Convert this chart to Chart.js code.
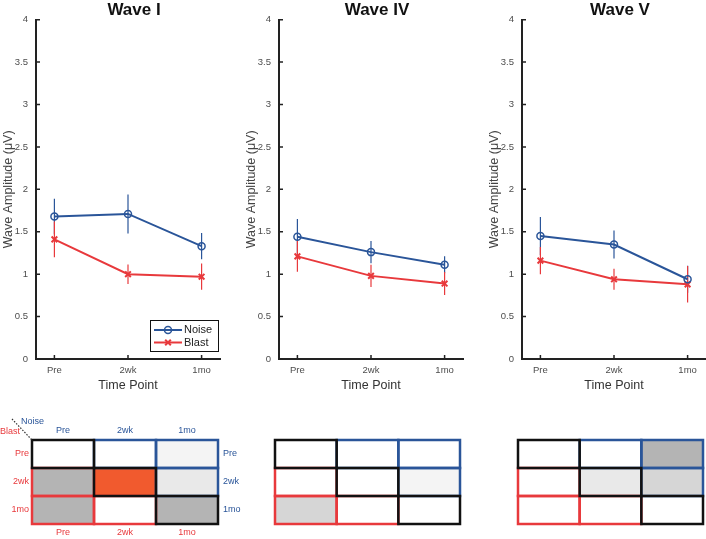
<!DOCTYPE html>
<html>
<head>
<meta charset="utf-8">
<title>Wave amplitudes</title>
<script src="https://cdn.jsdelivr.net/npm/chart.js@4.4.0/dist/chart.umd.min.js"></script>
<style>
  html, body { margin: 0; padding: 0; background: #fff; overflow: hidden; }
  body { width: 706px; height: 539px; position: relative; }
  .pane { position: absolute; }
</style>
</head>
<body>
<div class="pane" style="left:0;top:0"><canvas id="wave1" width="268" height="400"></canvas></div>
<div class="pane" style="left:243px;top:0"><canvas id="wave4" width="268" height="400"></canvas></div>
<div class="pane" style="left:486px;top:0"><canvas id="wave5" width="268" height="400"></canvas></div>
<div class="pane" style="left:0;top:412px"><canvas id="grid1" width="250" height="127"></canvas></div>
<div class="pane" style="left:272px;top:437px"><canvas id="grid4" width="191" height="90"></canvas></div>
<div class="pane" style="left:515px;top:437px"><canvas id="grid5" width="191" height="90"></canvas></div>
<script>
// --- data ---
const timePoints = ['Pre', '2wk', '1mo'];
const xPos = [1, 2, 3];
const yTicks = [0, 0.5, 1, 1.5, 2, 2.5, 3, 3.5, 4];

const wave1Noise = [1.68, 1.71, 1.33];
const wave1NoiseErr = [0.21, 0.23, 0.155];
const wave1Blast = [1.41, 1.00, 0.97];
const wave1BlastErr = [0.21, 0.115, 0.155];

const wave4Noise = [1.44, 1.26, 1.11];
const wave4NoiseErr = [0.21, 0.13, 0.10];
const wave4Blast = [1.21, 0.98, 0.89];
const wave4BlastErr = [0.18, 0.13, 0.135];

const wave5Noise = [1.45, 1.35, 0.94];
const wave5NoiseErr = [0.225, 0.165, 0.16];
const wave5Blast = [1.16, 0.94, 0.88];
const wave5BlastErr = [0.16, 0.125, 0.215];

// comparison grids, rows = Blast time point, cols = Noise time point
// 0 = none, 1..4 = light to dark grey, 5 = orange
const wave1Levels = [[0, 0, 1], [4, 5, 2], [4, 0, 4]];
const wave4Levels = [[0, 0, 0], [0, 0, 1], [3, 0, 0]];
const wave5Levels = [[0, 0, 4], [0, 2, 3], [0, 0, 0]];

// --- styling ---
const noiseColor = '#2a5599';
const blastColor = '#e8393c';
const diagColor = '#111111';
const shadePalette = ['#ffffff', '#f4f4f4', '#e9e9e9', '#d6d6d6', '#b4b4b4', '#f15a2e'];

Chart.defaults.font.family = "'Liberation Sans', Arial, sans-serif";
Chart.defaults.animation = false;

const toPoints = vals => xPos.map((x, i) => ({ x: x, y: vals[i] }));

// vertical error bars from each dataset's errors array
const errorBars = {
  id: 'errorBars',
  beforeDatasetsDraw(chart) {
    const { ctx, scales: { x, y } } = chart;
    chart.data.datasets.forEach(ds => {
      if (!ds.errors) return;
      ctx.save();
      ctx.strokeStyle = ds.borderColor;
      ctx.lineWidth = 1.2;
      ds.data.forEach((pt, i) => {
        const px = x.getPixelForValue(pt.x);
        ctx.beginPath();
        ctx.moveTo(px, y.getPixelForValue(pt.y - ds.errors[i]));
        ctx.lineTo(px, y.getPixelForValue(pt.y + ds.errors[i]));
        ctx.stroke();
      });
      ctx.restore();
    });
  }
};

// matlab style inward tick marks
const innerTicks = {
  id: 'innerTicks',
  beforeDatasetsDraw(chart) {
    const { ctx, chartArea, scales: { x, y } } = chart;
    ctx.save();
    ctx.strokeStyle = '#222';
    ctx.lineWidth = 1.5;
    ctx.beginPath();
    x.ticks.forEach(t => {
      const px = x.getPixelForValue(t.value);
      ctx.moveTo(px, chartArea.bottom);
      ctx.lineTo(px, chartArea.bottom - 4);
    });
    y.ticks.forEach(t => {
      const py = y.getPixelForValue(t.value);
      ctx.moveTo(chartArea.left, py);
      ctx.lineTo(chartArea.left + 4, py);
    });
    ctx.stroke();
    ctx.restore();
  }
};

// boxed legend in the lower right of the plot
const boxLegend = {
  id: 'boxLegend',
  afterDraw(chart, args, opts) {
    if (!opts.show) return;
    const { ctx, chartArea } = chart;
    const w = 68, h = 31;
    const left = chartArea.right - 2 - w;
    const top = chartArea.bottom - 8 - h;
    ctx.save();
    ctx.fillStyle = '#fff';
    ctx.fillRect(left, top, w, h);
    ctx.strokeStyle = '#111';
    ctx.lineWidth = 1;
    ctx.strokeRect(left + 0.5, top + 0.5, w, h);
    chart.data.datasets.forEach((ds, i) => {
      const cy = top + 10 + i * 12.5;
      ctx.strokeStyle = ds.borderColor;
      ctx.lineWidth = 2;
      ctx.beginPath();
      ctx.moveTo(left + 4, cy);
      ctx.lineTo(left + 32, cy);
      ctx.stroke();
      ctx.fillStyle = 'rgba(0,0,0,0)';
      ctx.lineWidth = ds.pointBorderWidth;
      Chart.helpers.drawPoint(ctx, {
        pointStyle: ds.pointStyle, radius: ds.pointRadius,
        borderWidth: ds.pointBorderWidth, rotation: 0
      }, left + 18, cy);
      ctx.fillStyle = '#222';
      ctx.font = "11px 'Liberation Sans', Arial, sans-serif";
      ctx.textBaseline = 'middle';
      ctx.fillText(ds.label, left + 34, cy);
    });
    ctx.restore();
  }
};

function waveChart(id, title, noise, noiseErr, blast, blastErr, showLegend) {
  return new Chart(document.getElementById(id), {
    type: 'line',
    data: {
      datasets: [
        {
          label: 'Noise', data: toPoints(noise), errors: noiseErr,
          borderColor: noiseColor, backgroundColor: 'rgba(0,0,0,0)',
          pointStyle: 'circle', pointRadius: 3.5, pointBorderWidth: 1.5, borderWidth: 2
        },
        {
          label: 'Blast', data: toPoints(blast), errors: blastErr,
          borderColor: blastColor, backgroundColor: blastColor,
          pointStyle: 'crossRot', pointRadius: 4, pointBorderWidth: 2, borderWidth: 2
        }
      ]
    },
    options: {
      responsive: false,
      devicePixelRatio: 1,
      layout: { padding: 0 },
      plugins: {
        legend: { display: false },
        tooltip: { enabled: false },
        title: {
          display: true, text: title, color: '#111',
          font: { size: 17, weight: 'bold', lineHeight: 1.1 },
          padding: { top: 1, bottom: 0 }
        },
        boxLegend: { show: showLegend }
      },
      scales: {
        x: {
          type: 'linear', min: 0.75, max: 3.25,
          afterBuildTicks: s => { s.ticks = xPos.map(v => ({ value: v })); },
          afterFit: s => { s.height = 41; },
          ticks: { color: '#4d4d4d', font: { size: 9.5 }, padding: 6,
                   callback: (v, i) => timePoints[i] },
          grid: { display: false, drawTicks: false },
          border: { color: '#222', width: 2 },
          title: { display: true, text: 'Time Point', color: '#333',
                   font: { size: 12.5 }, padding: { top: 0, bottom: 7 } }
        },
        y: {
          min: 0, max: 4,
          afterBuildTicks: s => { s.ticks = yTicks.map(v => ({ value: v })); },
          afterFit: s => { s.width = 36; },
          ticks: { color: '#4d4d4d', font: { size: 9.5 }, padding: 8,
                   callback: v => String(v) },
          grid: { display: false, drawTicks: false },
          border: { color: '#222', width: 2 },
          title: { display: true, text: 'Wave Amplitude (\u03bcV)', color: '#444',
                   font: { size: 12.5 }, padding: { top: 1, bottom: 0 } }
        },
        // empty right-hand gutter so the title centres like the original
        gutter: {
          position: 'right', min: 0, max: 1,
          afterFit: s => { s.width = 48; },
          ticks: { display: false },
          grid: { display: false, drawTicks: false },
          border: { display: false }
        }
      }
    },
    plugins: [errorBars, innerTicks, boxLegend]
  });
}

waveChart('wave1', 'Wave I', wave1Noise, wave1NoiseErr, wave1Blast, wave1BlastErr, true);
waveChart('wave4', 'Wave IV', wave4Noise, wave4NoiseErr, wave4Blast, wave4BlastErr, false);
waveChart('wave5', 'Wave V', wave5Noise, wave5NoiseErr, wave5Blast, wave5BlastErr, false);

// one floating bar per grid cell
function gridDatasets(levels) {
  const sets = [];
  levels.forEach((row, r) => row.forEach((lvl, c) => {
    const edge = r === c ? diagColor : (c > r ? noiseColor : blastColor);
    sets.push({
      data: [{ x: [c, c + 1], y: timePoints[r] }],
      backgroundColor: shadePalette[lvl],
      borderColor: edge,
      borderWidth: 0,
      grouped: false,
      barPercentage: 1,
      categoryPercentage: 1,
      order: r === c ? 0 : 1
    });
  }));
  return sets;
}

// cell outlines centred on the cell edges, diagonal cells stroked last
const cellOutlines = {
  id: 'cellOutlines',
  afterDatasetsDraw(chart) {
    const { ctx } = chart;
    ctx.save();
    ctx.lineWidth = 2.5;
    chart.getSortedVisibleDatasetMetas().slice().reverse().forEach(meta => {
      const ds = chart.data.datasets[meta.index];
      meta.data.forEach(bar => {
        const { x, y, base, height } = bar.getProps(['x', 'y', 'base', 'height'], true);
        ctx.strokeStyle = ds.borderColor;
        ctx.strokeRect(Math.min(x, base), y - height / 2, Math.abs(x - base), height);
      });
    });
    ctx.restore();
  }
};

// "Noise" / "Blast" corner key with dotted divider
const cornerKey = {
  id: 'cornerKey',
  afterDraw(chart, args, opts) {
    if (!opts.show) return;
    const { ctx, chartArea: { left, top } } = chart;
    ctx.save();
    ctx.font = "9px 'Liberation Sans', Arial, sans-serif";
    ctx.textBaseline = 'middle';
    ctx.fillStyle = noiseColor;
    ctx.textAlign = 'left';
    ctx.fillText('Noise', left - 11, top - 18);
    ctx.fillStyle = blastColor;
    ctx.textAlign = 'right';
    ctx.fillText('Blast', left - 12, top - 8);
    ctx.strokeStyle = '#333';
    ctx.lineWidth = 1.2;
    ctx.setLineDash([1.5, 1.5]);
    ctx.beginPath();
    ctx.moveTo(left - 20, top - 21);
    ctx.lineTo(left, top);
    ctx.stroke();
    ctx.restore();
  }
};

function gridChart(id, levels, labelled) {
  const midTicks = s => { s.ticks = [0.5, 1.5, 2.5].map(v => ({ value: v })); };
  const fixed = (dim, size) => labelled ? (s => { s[dim] = size; }) : undefined;
  const lbl = (color, pad) => ({ display: labelled, color: color, font: { size: 9 }, padding: pad });
  const scales = {
    x: {
      type: 'linear', min: 0, max: 3, display: labelled,
      afterBuildTicks: midTicks,
      afterFit: fixed('height', 15),
      ticks: Object.assign(lbl(blastColor, 3), { callback: (v, i) => timePoints[i] }),
      grid: { display: false, drawTicks: false }, border: { display: false }
    },
    y: {
      type: 'category', labels: timePoints, offset: true, display: labelled,
      afterFit: fixed('width', 32),
      ticks: lbl(blastColor, 3),
      grid: { display: false, drawTicks: false }, border: { display: false }
    }
  };
  if (labelled) {
    scales.x2 = {
      type: 'linear', position: 'top', min: 0, max: 3,
      afterBuildTicks: midTicks,
      afterFit: fixed('height', 28),
      ticks: Object.assign(lbl(noiseColor, 4), { callback: (v, i) => timePoints[i] }),
      grid: { display: false, drawTicks: false }, border: { display: false }
    };
    scales.y2 = {
      type: 'category', position: 'right', labels: timePoints, offset: true,
      afterFit: fixed('width', 32),
      ticks: lbl(noiseColor, 5),
      grid: { display: false, drawTicks: false }, border: { display: false }
    };
  }
  return new Chart(document.getElementById(id), {
    type: 'bar',
    data: { labels: timePoints, datasets: gridDatasets(levels) },
    options: {
      indexAxis: 'y',
      responsive: false,
      devicePixelRatio: 1,
      layout: { padding: labelled ? 0 : 3 },
      plugins: { legend: { display: false }, tooltip: { enabled: false }, cornerKey: { show: labelled } },
      scales: scales
    },
    plugins: [cellOutlines, cornerKey]
  });
}

gridChart('grid1', wave1Levels, true);
gridChart('grid4', wave4Levels, false);
gridChart('grid5', wave5Levels, false);
</script>
</body>
</html>
